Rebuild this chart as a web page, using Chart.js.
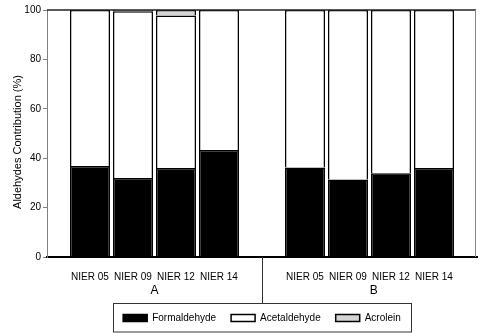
<!DOCTYPE html>
<html>
<head>
<meta charset="utf-8">
<script src="https://cdn.jsdelivr.net/npm/chart.js@4/dist/chart.umd.min.js"></script>
<style>
  body { margin: 0; background: #fff; }
  canvas { display: block; }
</style>
</head>
<body>
<canvas id="myChart" width="483" height="333"></canvas>
<script>
const ctx = document.getElementById('myChart').getContext('2d');

// data (blank slots are the gaps at the ends and between groups)
const categories = ['', 'NIER 05', 'NIER 09', 'NIER 12', 'NIER 14', '', 'NIER 05', 'NIER 09', 'NIER 12', 'NIER 14', ''];
const formaldehyde = [null, 36.8, 32.0, 36.0, 43.3, null, 36.2, 31.4, 33.9, 36.0, null];
const acetaldehyde = [null, 63.2, 67.5, 61.8, 56.7, null, 63.8, 68.6, 66.1, 64.0, null];
const acrolein = [null, 0, 0.5, 2.2, 0, null, 0, 0, 0, 0, null];
const groupNames = ['A', 'B'];
const groupCenters = [2.5, 7.6];
const yTitle = 'Aldehydes Contribution (%)';

const font = '"Liberation Sans", Arial, sans-serif';

// extra bits: axis title, group labels, divider, legend frame, plot frame
const extras = {
  id: 'extras',
  afterDraw(chart) {
    const c = chart.ctx;
    const area = chart.chartArea;
    const x = chart.scales.x;
    c.save();

    // plot frame top / right
    c.strokeStyle = '#222';
    c.lineWidth = 1.5;
    c.beginPath();
    c.moveTo(area.left, area.top);
    c.lineTo(area.right - 1, area.top);
    c.stroke();
    c.strokeStyle = '#888';
    c.lineWidth = 1;
    c.beginPath();
    c.moveTo(area.right - 1.5, area.top);
    c.lineTo(area.right - 1.5, area.bottom);
    c.stroke();

    // y title
    c.fillStyle = '#000';
    c.font = '11px ' + font;
    c.textAlign = 'center';
    c.textBaseline = 'middle';
    c.translate(18, 142);
    c.rotate(-Math.PI / 2);
    c.fillText(yTitle, 0, 0);
    c.setTransform(1, 0, 0, 1, 0, 0);

    // legend frame
    const boxes = chart.legend.legendHitBoxes;
    const left = Math.min(...boxes.map(b => b.left)) - 10;
    const right = Math.max(...boxes.map(b => b.left + b.width)) + 10;
    const top = boxes[0].top - 10;
    const bottom = chart.height - 1;
    c.strokeStyle = '#333';
    c.lineWidth = 1;
    c.strokeRect(Math.round(left) + 0.5, Math.round(top) + 0.5, Math.round(right - left), Math.round(bottom - top) - 0.5);

    // divider between groups
    const mid = Math.round(x.getPixelForValue(5)) + 0.5;
    c.strokeStyle = '#333';
    c.beginPath();
    c.moveTo(mid, area.bottom);
    c.lineTo(mid, Math.round(top) + 0.5);
    c.stroke();

    // group labels
    c.fillStyle = '#000';
    c.font = '12px ' + font;
    c.textAlign = 'center';
    c.textBaseline = 'middle';
    groupNames.forEach((g, i) => {
      c.fillText(g, x.getPixelForValue(groupCenters[i]), 291);
    });
    c.restore();
  }
};

const aldehydeChart = new Chart(ctx, {
  type: 'bar',
  data: {
    labels: categories,
    datasets: [{
      label: 'Formaldehyde',
      data: formaldehyde,
      backgroundColor: '#000',
      borderColor: '#000',
      borderWidth: 1.5
    }, {
      label: 'Acetaldehyde',
      data: acetaldehyde,
      backgroundColor: '#fff',
      borderColor: '#000',
      borderWidth: 1.5
    }, {
      label: 'Acrolein',
      data: acrolein,
      backgroundColor: '#d4d4d4',
      borderColor: '#000',
      borderWidth: 1.5
    }]
  },
  options: {
    responsive: false,
    animation: false,
    layout: { padding: { top: 10, right: 0, bottom: 0, left: 0 } },
    datasets: {
      bar: { barPercentage: 1, categoryPercentage: 0.93 }
    },
    plugins: {
      tooltip: { enabled: false },
      legend: {
        position: 'bottom',
        fullSize: false,
        labels: {
          color: '#000',
          font: { family: font, size: 10 },
          boxWidth: 24,
          boxHeight: 7,
          padding: 15
        }
      }
    },
    scales: {
      x: {
        stacked: true,
        offset: false,
        grid: { display: false },
        border: { display: true, color: '#000', width: 2 },
        ticks: {
          color: '#000',
          font: { family: font, size: 10 },
          autoSkip: false,
          maxRotation: 0,
          padding: 6
        },
        afterFit(scale) { scale.height = 41; }
      },
      y: {
        stacked: true,
        min: 0,
        max: 100,
        grid: { drawOnChartArea: false, drawTicks: true, tickLength: 4, color: '#808080' },
        border: { display: true, color: '#808080', width: 1 },
        ticks: {
          stepSize: 20,
          color: '#000',
          font: { family: font, size: 10 },
          padding: 2
        },
        afterFit(scale) { scale.width = 47; }
      }
    }
  },
  plugins: [extras]
});
</script>
</body>
</html>
